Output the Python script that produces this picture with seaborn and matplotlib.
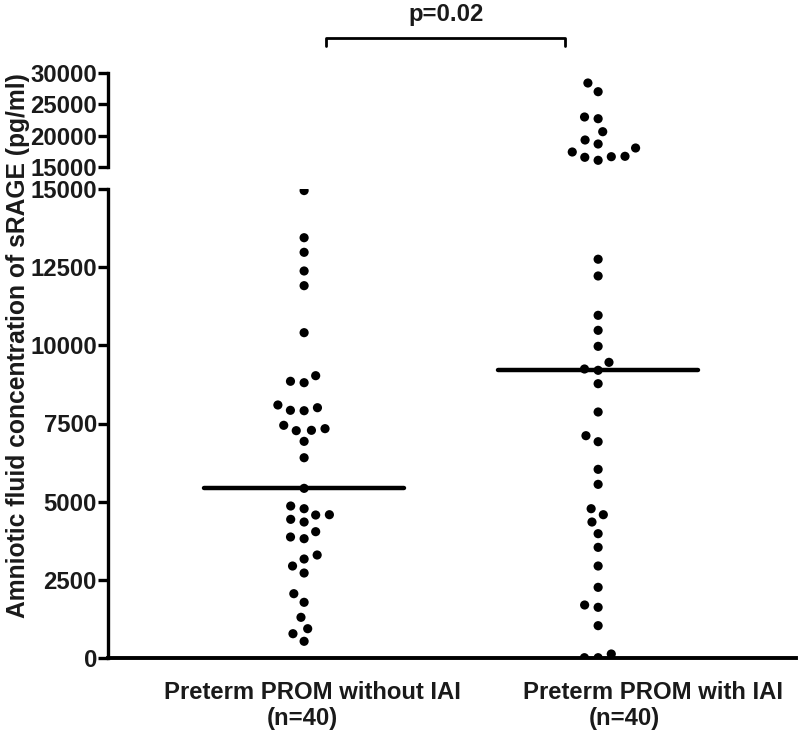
import numpy as np
import pandas as pd
import seaborn as sns
import matplotlib
matplotlib.use("Agg")
import matplotlib.pyplot as plt

# ---------------- data ----------------
groups = ["Preterm PROM without IAI", "Preterm PROM with IAI"]
group_n = ["(n=40)", "(n=40)"]

without_iai = [14950, 13442, 12975, 12378, 11908, 10405, 8850, 8805, 9029,
               8092, 7909, 7922, 8005, 7282, 7442, 7271, 7335, 6929, 6405,
               5426, 4775, 4861, 4573, 4349, 4435, 4583, 3870, 3816, 4040,
               3166, 3294, 2942, 2718, 2057, 1781, 1301, 937, 777, 534]

with_iai = [28404, 27016, 22979, 22707, 20633, 18670, 19309, 18032, 16644,
            16548, 16069, 16707, 17394,
            12754, 12218, 10960, 10480, 9968, 9456, 9243, 9201, 8773, 7868,
            6918, 7110, 6034, 5554, 4775, 4583, 4349, 3976, 3539, 2942,
            2260, 1621, 1695, 1034, 128, 10, 10]

lower_ticks = [0, 2500, 5000, 7500, 10000, 12500, 15000]
upper_ticks = [15000, 20000, 25000, 30000]
break_value = 15000
top_value = 30000
p_label = "p=0.02"
y_label = "Amniotic fluid concentration of sRAGE (pg/ml)"

# ---------------- fonts ----------------
sns.set_theme(style="white")
plt.rcParams["font.family"] = ["Liberation Sans", "DejaVu Sans"]
TXT = "#1a1a1a"
FS = 17.2

df = pd.DataFrame({
    "group": [groups[0]] * len(without_iai) + [groups[1]] * len(with_iai),
    "value": without_iai + with_iai,
})
df_lo = df[df["value"] < break_value]
df_hi = df[df["value"] >= break_value]

W, H = 800, 737
fig = plt.figure(figsize=(W / 100, H / 100), dpi=100)
ax_lo = fig.add_axes([108 / W, (H - 658) / H, 688 / W, 469 / H])
ax_hi = fig.add_axes([108 / W, (H - 167) / H, 688 / W, 94 / H])

swarm_kw = dict(x="group", y="value", order=groups, color="black",
                size=6.6, linewidth=2.8, edgecolor="none")
sns.swarmplot(data=df_lo, ax=ax_lo, **swarm_kw)
sns.swarmplot(data=df_hi, ax=ax_hi, **swarm_kw)

# median lines
for i, vals in enumerate([without_iai, with_iai]):
    ax_lo.hlines(np.median(vals), i - 0.34, i + 0.34, color="black",
                 lw=3.2, zorder=4, capstyle="round")

xlim = (-0.667, 1.673)
for ax in (ax_lo, ax_hi):
    ax.set_xlim(*xlim)
    ax.set_xlabel("")
    ax.set_ylabel("")
    ax.set_facecolor("none")
    for s in ("top", "right"):
        ax.spines[s].set_visible(False)
    ax.spines["left"].set_linewidth(2.4)
    ax.spines["left"].set_color("black")
    ax.tick_params(axis="y", which="major", length=7, width=2.4,
                   color="black", pad=1, left=True)
    ax.tick_params(axis="x", length=0)

ax_lo.set_ylim(0, break_value)
ax_lo.set_yticks(lower_ticks)
ax_lo.spines["bottom"].set_linewidth(2.8)
ax_lo.spines["bottom"].set_color("black")
ax_lo.set_xticks([0, 1])
ax_lo.set_xticklabels(["", ""])

ax_hi.set_ylim(break_value, top_value)
ax_hi.set_yticks(upper_ticks)
ax_hi.spines["bottom"].set_visible(False)
ax_hi.set_xticks([])

for ax in (ax_lo, ax_hi):
    ax.set_yticklabels([str(t) for t in ax.get_yticks().astype(int)],
                       fontweight="bold", fontsize=FS, color=TXT)

# category labels
label_centers = [(0.027, -0.007), (1.187, 1.088)]
for (c1, c2), name, n in zip(label_centers, groups, group_n):
    ax_lo.text(c1, -0.0725, name, transform=ax_lo.get_xaxis_transform(),
               ha="center", va="center", fontweight="bold", fontsize=FS,
               color=TXT)
    ax_lo.text(c2, -0.130, n, transform=ax_lo.get_xaxis_transform(),
               ha="center", va="center", fontweight="bold", fontsize=FS,
               color=TXT)

# significance bracket
bx0, bx1 = 0.075, 0.888
by, bt = 1.372, 1.287
ax_hi.plot([bx0, bx0, bx1, bx1], [bt, by, by, bt], color="black", lw=2.0,
           transform=ax_hi.get_xaxis_transform(), clip_on=False)
ax_hi.text((bx0 + bx1) / 2, 1.62, p_label, transform=ax_hi.get_xaxis_transform(),
           ha="center", va="center", fontweight="bold", fontsize=FS, color=TXT)

fig.text(0.0225, (H - 346) / H, y_label, rotation=90, ha="center", va="center",
         fontweight="bold", fontsize=17.7, color=TXT)

fig.savefig("out.png", dpi=100, facecolor="white")
